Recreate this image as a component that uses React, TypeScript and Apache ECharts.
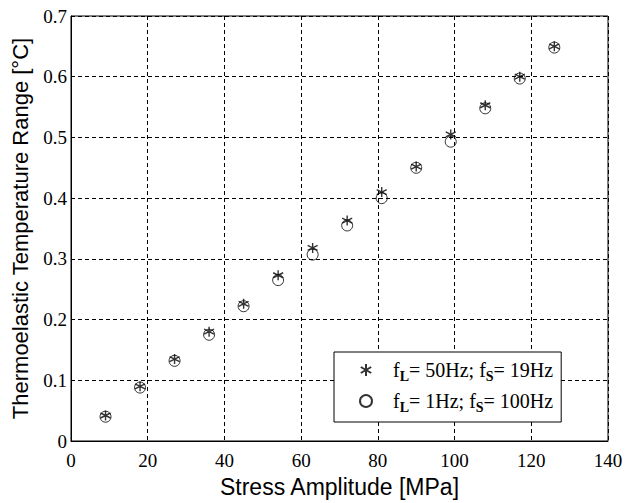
import React, { useEffect, useRef } from "react";
import * as echarts from "echarts";

const stress: number[] = [9, 18, 27, 36, 45, 54, 63, 72, 81, 90, 99, 108, 117, 126];
const rangeA: number[] = [0.042, 0.09, 0.135, 0.18, 0.226, 0.273, 0.318, 0.363, 0.41, 0.452, 0.505, 0.553, 0.6, 0.65];
const rangeB: number[] = [0.04, 0.088, 0.132, 0.175, 0.222, 0.265, 0.307, 0.355, 0.4, 0.45, 0.493, 0.548, 0.597, 0.648];
const seriesNames: string[] = ["A", "B"];
const legendLabels: string[] = [
  "f{sub|L}= 50Hz; f{sub|S}= 19Hz",
  "f{sub|L}= 1Hz; f{sub|S}= 100Hz",
];

const starPath =
  "path://M0,-5L0,5M-4.33,-2.5L4.33,2.5M-4.33,2.5L4.33,-2.5M0,-5";

export default function App() {
  const ref = useRef<HTMLDivElement>(null);
  useEffect(() => {
    if (!ref.current) return;
    const chart = echarts.init(ref.current, null, { renderer: "svg" });
    const serif = "'Liberation Serif', 'DejaVu Serif', serif";
    const sans = "'Liberation Sans', Arial, sans-serif";
    chart.setOption({
      animation: false,
      backgroundColor: "#ffffff",
      grid: {
        left: 71,
        top: 16,
        right: 19,
        bottom: 62,
        outerBoundsMode: "none",
        containLabel: false,
        show: true,
        borderColor: "#000",
        borderWidth: 1,
        backgroundColor: "transparent",
      },
      xAxis: {
        type: "value",
        min: 0,
        max: 140,
        interval: 20,
        name: "Stress Amplitude [MPa]",
        nameLocation: "middle",
        nameGap: 34,
        nameTextStyle: { fontFamily: sans, fontSize: 23, color: "#000" },
        axisLine: { show: true, lineStyle: { color: "#000", width: 1 } },
        axisTick: { show: false },
        axisLabel: { fontFamily: serif, fontSize: 19, color: "#000", margin: 10 },
        splitLine: { show: true, lineStyle: { color: "#000", type: [4, 3], width: 1 } },
      },
      yAxis: {
        type: "value",
        min: 0,
        max: 0.7,
        interval: 0.1,
        name: "Thermoelastic Temperature Range [°C]",
        nameLocation: "middle",
        nameGap: 40,
        nameTextStyle: { fontFamily: sans, fontSize: 22, color: "#000" },
        axisLine: { show: true, lineStyle: { color: "#000", width: 1 } },
        axisTick: { show: false },
        axisLabel: {
          fontFamily: serif,
          fontSize: 19,
          color: "#000",
          margin: 4,
          formatter: (v: number) => (v === 0 ? "0" : v.toFixed(1)),
        },
        splitLine: { show: true, lineStyle: { color: "#000", type: [4, 3], width: 1 } },
      },
      legend: {
        show: true,
        orient: "vertical",
        left: 334,
        top: 352,
        padding: [8, 8, 8, 25],
        itemGap: 8,
        itemWidth: 12,
        itemHeight: 12,
        borderColor: "#000",
        borderWidth: 1,
        backgroundColor: "#fff",
        data: seriesNames,
        formatter: (name: string) => legendLabels[seriesNames.indexOf(name)],
        textStyle: {
          fontFamily: serif,
          fontSize: 20,
          color: "#000",
          padding: [0, 0, 0, 16],
          rich: {
            sub: {
              fontFamily: serif,
              fontSize: 14,
              fontWeight: "bold",
              color: "#000",
              padding: [12, 0, 0, 0],
            },
          },
        },
      },
      series: [
        {
          name: seriesNames[0],
          type: "scatter",
          symbol: starPath,
          symbolSize: 10,
          itemStyle: { color: "#000", borderColor: "#000", borderWidth: 1.4 },
          data: stress.map((x, i) => [x, rangeA[i]]),
          z: 3,
        },
        {
          name: seriesNames[1],
          type: "scatter",
          symbol: "circle",
          symbolSize: 11,
          itemStyle: { color: "transparent", borderColor: "#000", borderWidth: 1 },
          data: stress.map((x, i) => [x, rangeB[i]]),
          z: 2,
        },
      ],
    });
    return () => chart.dispose();
  }, []);
  return (
    <div
      ref={ref}
      style={{ position: "fixed", left: 0, top: 0, width: 627, height: 503, background: "#fff" }}
    />
  );
}
